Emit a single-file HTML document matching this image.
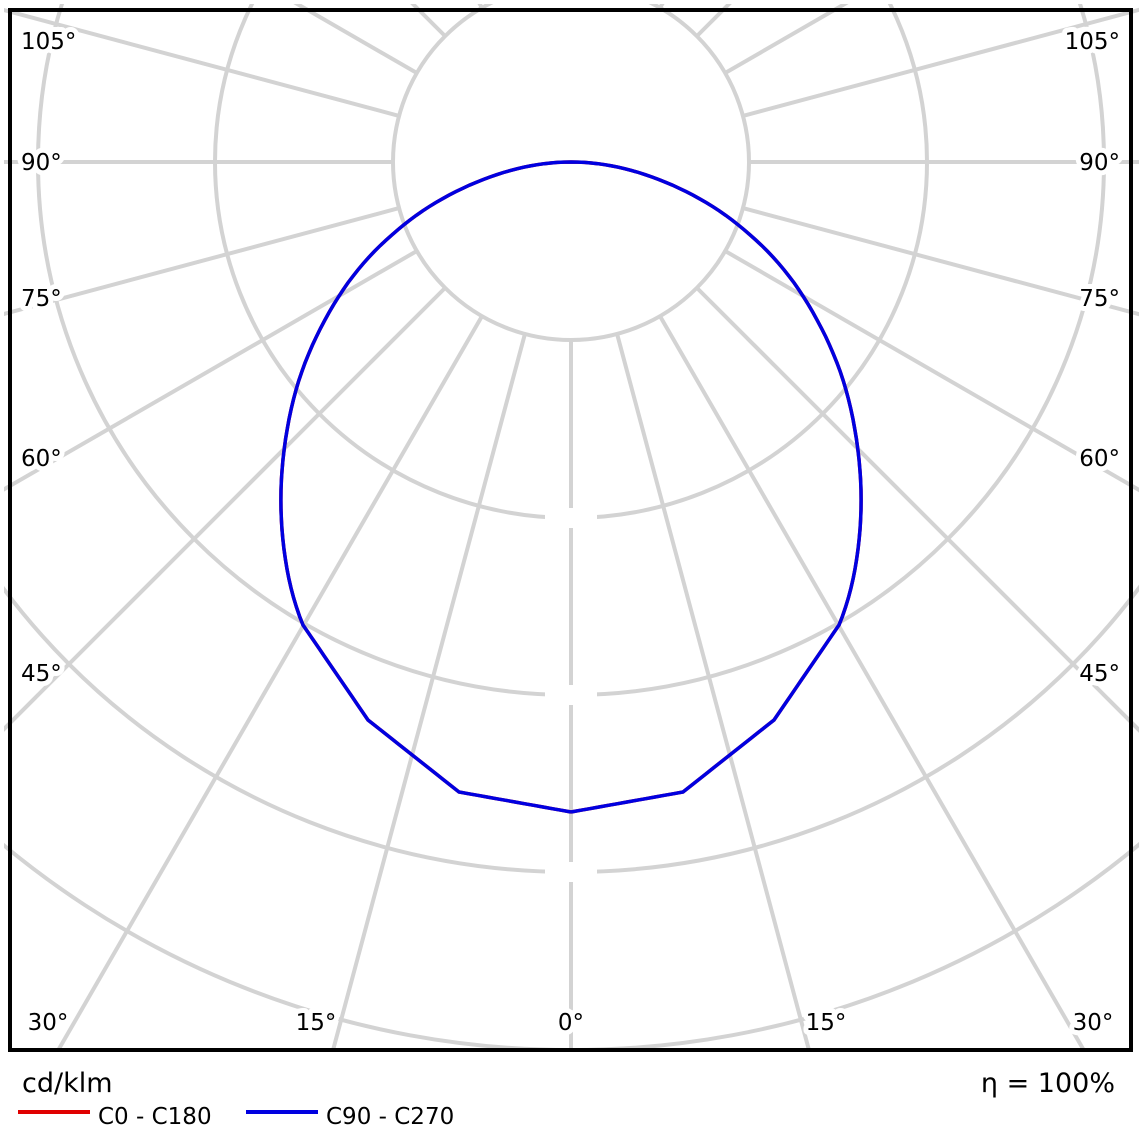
<!DOCTYPE html>
<html><head><meta charset="utf-8"><style>
html,body{margin:0;padding:0;background:#fff;overflow:hidden;width:1143px;height:1143px;}
svg{display:block;}
text{font-family:"DejaVu Sans","Liberation Sans",sans-serif;}
</style></head><body>
<svg width="1143" height="1143" viewBox="0 0 1143 1143" xmlns="http://www.w3.org/2000/svg">
<defs><clipPath id="c"><rect x="4" y="4" width="1135" height="1046"/></clipPath></defs>
<g clip-path="url(#c)" stroke="#d3d3d3" stroke-width="4" fill="none">
<circle cx="571" cy="162" r="178"/>
<circle cx="571" cy="162" r="356"/>
<circle cx="571" cy="162" r="533"/>
<circle cx="571" cy="162" r="710"/>
<circle cx="571" cy="162" r="888"/>
<g id="rad"></g>
</g>
<g fill="#fff"><rect x="545" y="508" width="52" height="20"/><rect x="545" y="685" width="52" height="20"/><rect x="545" y="862" width="52" height="20"/></g>
<path id="curve" fill="none" stroke="#e00000" stroke-width="3.5"/>
<path id="curve2" fill="none" stroke="#0000e0" stroke-width="3.5"/>
<rect x="10" y="10" width="1121" height="1040" fill="none" stroke="#000" stroke-width="4"/>
<g font-size="23" fill="#000" stroke="#fff" stroke-width="10" paint-order="stroke" stroke-linejoin="round">
<text x="21" y="49">105°</text><text x="21" y="170">90°</text><text x="21" y="306">75°</text><text x="21" y="466">60°</text><text x="21" y="681">45°</text>
<text x="1120" y="49" text-anchor="end">105°</text><text x="1120" y="170" text-anchor="end">90°</text><text x="1120" y="306" text-anchor="end">75°</text><text x="1120" y="466" text-anchor="end">60°</text><text x="1120" y="681" text-anchor="end">45°</text>
<text x="48" y="1030" text-anchor="middle">30°</text><text x="316" y="1030" text-anchor="middle">15°</text><text x="571" y="1030" text-anchor="middle">0°</text><text x="826" y="1030" text-anchor="middle">15°</text><text x="1093" y="1030" text-anchor="middle">30°</text>
</g>
<text x="22" y="1092" font-size="27">cd/klm</text>
<line x1="18" y1="1112" x2="90" y2="1112" stroke="#e00000" stroke-width="4"/>
<text x="98" y="1124" font-size="23">C0 - C180</text>
<line x1="246" y1="1112" x2="318" y2="1112" stroke="#0000e0" stroke-width="4"/>
<text x="326" y="1124" font-size="23">C90 - C270</text>
<text x="1115" y="1092" font-size="27" text-anchor="end">η = 100%</text>
</svg>
<script>
var g=document.getElementById('rad'),s='';
for(var a=0;a<=180;a+=15){var t=a*Math.PI/180;[1,-1].forEach(function(sg){
var dx=-sg*Math.sin(t),dy=Math.cos(t);
s+='<line x1="'+(571+dx*178)+'" y1="'+(162+dy*178)+'" x2="'+(571+dx*1300)+'" y2="'+(162+dy*1300)+'"/>';});}
g.innerHTML=s;
var L=[[571,162],[490,177],[410,220],[343,290],[296,390],[281,510],[303,625],[368,720],[459,792],[571,812]];
var P=[];
for(var i=L.length-1;i>=1;i--)P.push([1142-L[i][0],L[i][1]]);
P=P.concat(L);
var out=[P[0]];
for(var i=0;i<P.length-1;i++){
  var p0=P[Math.max(0,i-1)],p1=P[i],p2=P[i+1],p3=P[Math.min(P.length-1,i+2)];
  var straight=(p1[1]>=620&&p2[1]>=620);
  for(var k=1;k<=12;k++){var t=k/12;
   if(straight){out.push([p1[0]+(p2[0]-p1[0])*t,p1[1]+(p2[1]-p1[1])*t]);continue;}
   var t2=t*t,t3=t2*t;
   out.push([0.5*(2*p1[0]+(-p0[0]+p2[0])*t+(2*p0[0]-5*p1[0]+4*p2[0]-p3[0])*t2+(-p0[0]+3*p1[0]-3*p2[0]+p3[0])*t3),
             0.5*(2*p1[1]+(-p0[1]+p2[1])*t+(2*p0[1]-5*p1[1]+4*p2[1]-p3[1])*t2+(-p0[1]+3*p1[1]-3*p2[1]+p3[1])*t3)]);}
}
var ps='M'+out.map(function(q){return q[0].toFixed(1)+','+q[1].toFixed(1)}).join(' L');
document.getElementById('curve').setAttribute('d',ps);
document.getElementById('curve2').setAttribute('d',ps);
</script>
</body></html>
